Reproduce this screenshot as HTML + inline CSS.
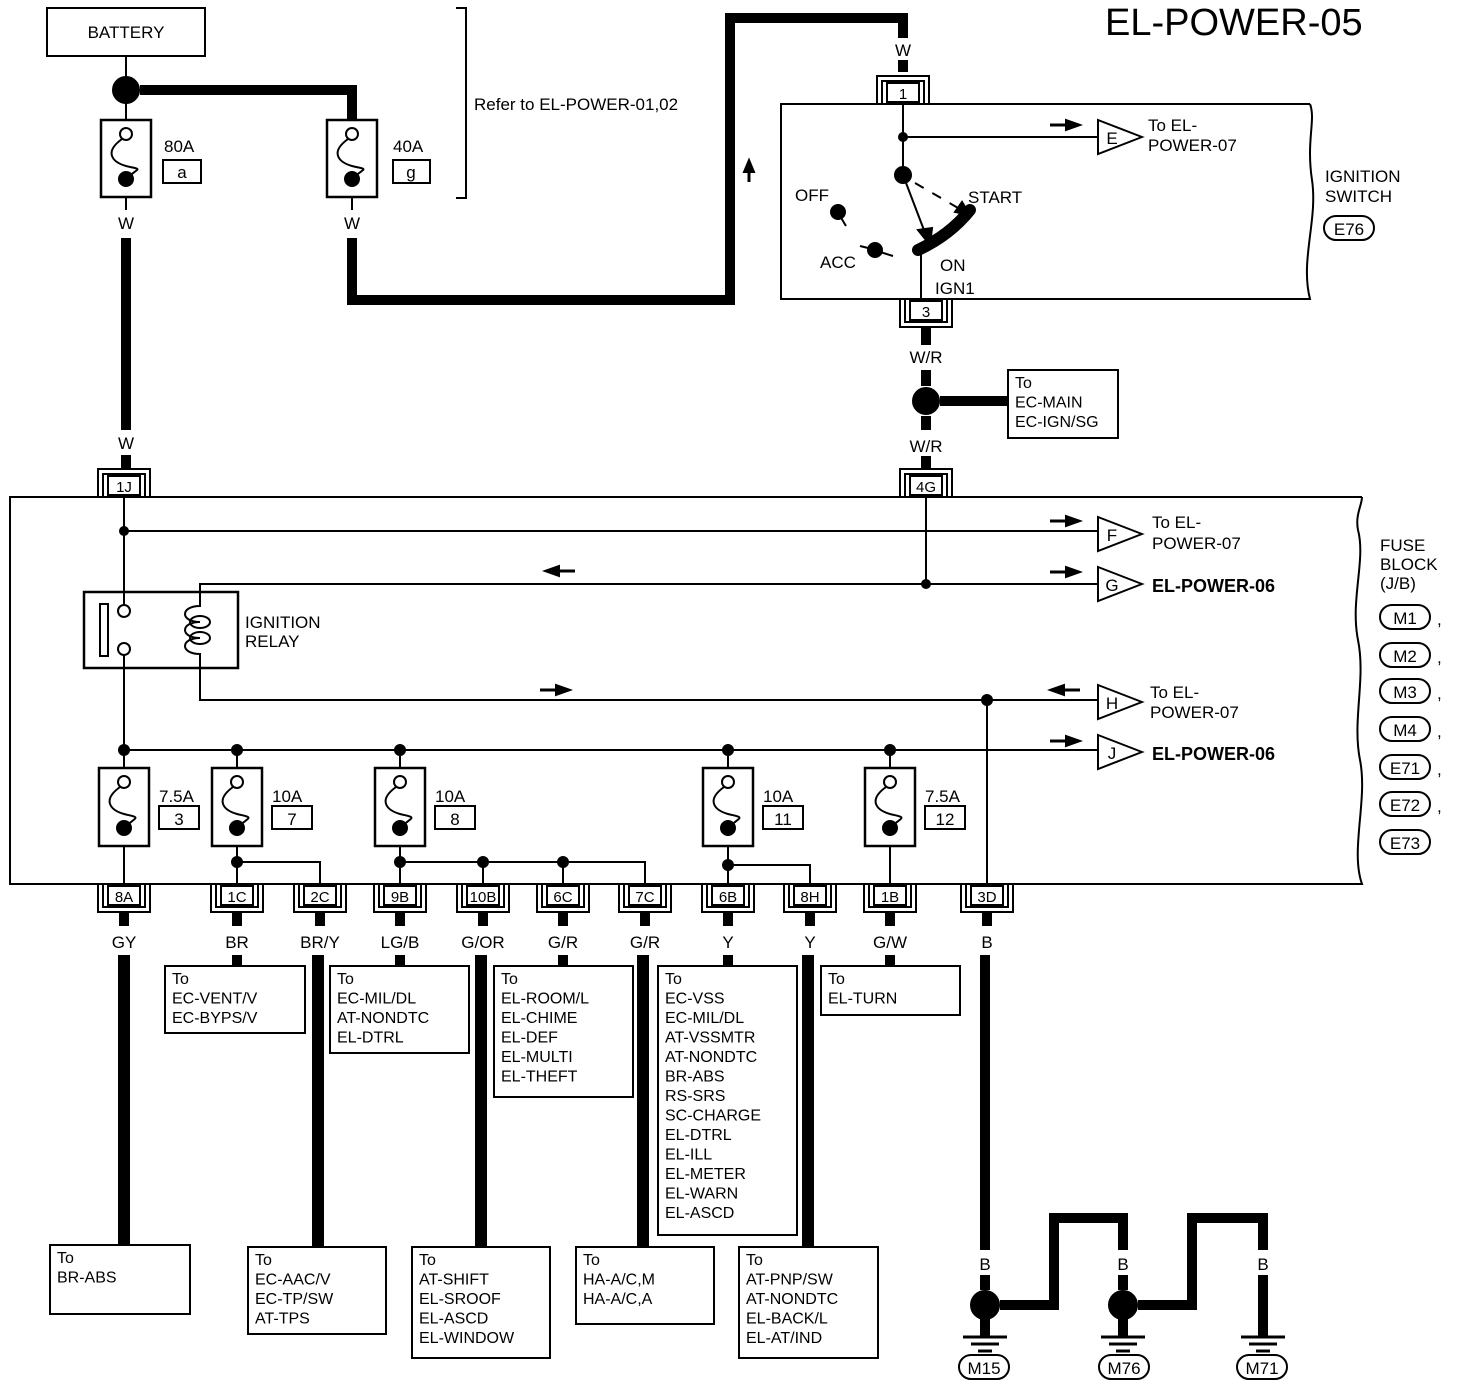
<!DOCTYPE html>
<html><head><meta charset="utf-8"><style>
html,body{margin:0;padding:0;background:#fff;}
svg{display:block;font-family:"Liberation Sans",sans-serif;}
text{fill:#000;}
</style></head><body>
<svg id="s" width="1472" height="1388" viewBox="0 0 1472 1388" xmlns="http://www.w3.org/2000/svg">
<g id="g" stroke="#000" fill="none" stroke-width="2"></g>
</svg>
<script>
var g=document.getElementById('g'),h='';
function L(pts,w,extra){h+='<polyline points="'+pts+'" stroke-width="'+(w||2)+'" '+(extra||'')+'/>';}
function R(x,y,w,hh,sw){h+='<rect x="'+x+'" y="'+y+'" width="'+w+'" height="'+hh+'" stroke-width="'+(sw||2)+'"/>';}
function C(x,y,r,f){h+='<circle cx="'+x+'" cy="'+y+'" r="'+r+'" fill="'+(f?'#000':'#fff')+'"/>';}
function T(x,y,t,o){o=o||{};h+='<text x="'+x+'" y="'+y+'" stroke="none" style="font-size:'+(o.s||16)+'px" '+(o.b?'font-weight="bold" ':'')+(o.a?'text-anchor="'+o.a+'" ':'')+'>'+t+'</text>';}
function fuse(cx,top,bot){R(cx-25,top,50,bot-top,2.5);C(cx,top+14,6,0);
 h+='<path d="M'+(cx-4)+' '+(top+19)+' C'+(cx-22)+' '+(top+32)+' '+(cx-14)+' '+(top+42)+' '+cx+' '+(top+46)+' C'+(cx+16)+' '+(top+50)+' '+(cx+14)+' '+(bot-30)+' '+(cx+2)+' '+(bot-20)+'"/>';C(cx,bot-18,7,1);}
function conBot(cx,y,lab){L((cx-26)+','+y+' '+(cx-26)+','+(y+28)+' '+(cx+26)+','+(y+28)+' '+(cx+26)+','+y);
 L((cx-21)+','+y+' '+(cx-21)+','+(y+23)+' '+(cx+21)+','+(y+23)+' '+(cx+21)+','+y);R(cx-16,y+2,32,19);T(cx,y+18,lab,{a:'middle',s:15});}
function conTop(cx,y,lab){L((cx-26)+','+y+' '+(cx-26)+','+(y-28)+' '+(cx+26)+','+(y-28)+' '+(cx+26)+','+y);
 L((cx-21)+','+y+' '+(cx-21)+','+(y-23)+' '+(cx+21)+','+(y-23)+' '+(cx+21)+','+y);R(cx-16,y-21,32,19);T(cx,y-5,lab,{a:'middle',s:15});}
function arr(x,y,dir){if(dir>0){L((x)+','+y+' '+(x+20)+','+y,3);h+='<polygon points="'+(x+30)+','+y+' '+(x+16)+','+(y-5)+' '+(x+16)+','+(y+5)+'" fill="#000"/>';}
 else{L((x+10)+','+y+' '+(x+30)+','+y,3);h+='<polygon points="'+x+','+y+' '+(x+14)+','+(y-5)+' '+(x+14)+','+(y+5)+'" fill="#000"/>';}}
function tri(x,y,lab){h+='<polygon points="'+x+','+(y-17)+' '+(x+44)+','+y+' '+x+','+(y+17)+'" fill="#fff" stroke-width="2"/>';T(x+14,y+7,lab,{a:'middle',s:17});}
function box(x,y,w,hh,lines){R(x,y,w,hh);lines.forEach(function(t,i){T(x+7,y+18+i*19.5,t,{s:16});});}
function oval(x,y,lab){h+='<rect x="'+(x-25)+'" y="'+(y-12)+'" width="50" height="24" rx="12"/>';T(x,y+7,lab,{a:'middle',s:17});}
T(1105,35,'EL-POWER-05',{s:38});
R(47,8,158,48);T(126,38,'BATTERY',{a:'middle',s:17});
L('126,56 126,78',2);C(126,90,13,1);
L('140,90 352,90 352,120',10);
L('126,103 126,120',2);
fuse(126,120,197);fuse(352,120,197);
T(164,152,'80A',{s:17});R(163,160,38,23);T(182,178,'a',{a:'middle',s:17});
T(393,152,'40A',{s:17});R(393,160,37,23);T(411,178,'g',{a:'middle',s:17});
L('126,197 126,210');L('352,197 352,210');
L('456,8 466,8 466,198 456,198',2);
T(474,110,'Refer to EL-POWER-01,02',{s:17});
T(126,229,'W',{a:'middle',s:17});T(352,229,'W',{a:'middle',s:17});
L('126,238 126,430',10);T(126,449,'W',{a:'middle',s:17});L('126,455 126,468',10);
L('352,238 352,300 730,300 730,18 903,18 903,38',10);
h+='<polygon points="749,160 744,172 754,172" fill="#000"/>';L('749,170 749,182',3);
T(903,56,'W',{a:'middle',s:17});L('903,60 903,72',10);
conTop(903,104,'1');
h+='<path d="M1310,104 L781,104 L781,299 L1310,299 C1300,260 1318,220 1312,180 C1306,140 1316,120 1310,104"/>';
L('903,104 903,175');C(903,137,4,1);L('903,137 1098,137');arr(1050,125,1);tri(1098,137,'E');
T(1148,131,'To EL-',{s:17});T(1148,151,'POWER-07',{s:17});
C(903,175,8,1);L('903,175 927,238',2);h+='<polygon points="930,245 918,230 932,228" fill="#000"/>';
L('915,183 965,212',2,'stroke-dasharray="10,10"');h+='<polygon points="970,215 955,212 962,202" fill="#000"/>';
h+='<path d="M918,250 Q950,235 970,210" stroke-width="12" stroke-linecap="round"/>';
L('921,252 921,299');
T(795,201,'OFF',{s:17});C(838,212,7,1);L('840,216 846,226');
T(820,268,'ACC',{s:17});C(875,250,7,1);L('860,246 868,248');L('880,252 893,256');
T(968,203,'START',{s:17});T(940,271,'ON',{s:17});T(935,294,'IGN1',{s:17});
T(1325,182,'IGNITION',{s:17});T(1325,202,'SWITCH',{s:17});oval(1349,228,'E76');
conBot(926,299,'3');
L('926,327 926,345',10);T(926,363,'W/R',{a:'middle',s:17});
L('926,370 926,386',10);C(926,401,13,1);L('926,416 926,430',10);L('940,401 1008,401',10);
box(1008,370,110,68,['To','EC-MAIN','EC-IGN/SG']);
T(926,452,'W/R',{a:'middle',s:17});L('926,456 926,470',10);
conTop(124,497,'1J');conTop(926,497,'4G');
h+='<path d="M1362,497 L10,497 L10,884 L1362,884 C1350,850 1368,800 1360,760 C1352,720 1366,680 1358,640 C1350,600 1366,560 1358,530 C1355,515 1362,505 1362,497"/>';
T(1380,551,'FUSE',{s:17});T(1380,570,'BLOCK',{s:17});T(1380,589,'(J/B)',{s:17});
[['M1',617],['M2',655],['M3',691],['M4',729],['E71',767],['E72',804],['E73',842]].forEach(function(o,i){oval(1405,o[1],o[0]);if(i<6)T(1437,o[1]+8,',',{s:17});});
L('124,497 124,604');C(124,531,4,1);L('124,531 1098,531');arr(1050,521,1);tri(1098,534,'F');
T(1152,528,'To EL-',{s:17});T(1152,549,'POWER-07',{s:17});
L('926,497 926,584');C(926,584,4,1);L('200,600 200,584 1098,584');arr(545,571,-1);arr(1050,572,1);tri(1098,584,'G');
T(1152,592,'EL-POWER-06',{s:18,b:true});
R(84,592,154,76,2.5);R(100,604,8,52,2);C(124,611,6,0);C(124,649,6,0);
h+='<path d="M200,600 L200,606 C180,606 180,622 200,622 C180,622 180,638 200,638 C180,638 180,654 200,654 L200,668" />';
h+='<ellipse cx="200" cy="622" rx="10" ry="6"/><ellipse cx="200" cy="638" rx="10" ry="6"/>';
T(245,628,'IGNITION',{s:17});T(245,647,'RELAY',{s:17});
L('124,655 124,750');L('200,668 200,700 1098,700');arr(540,690,1);C(987,700,5,1);arr(1050,690,-1);tri(1098,702,'H');
T(1150,698,'To EL-',{s:17});T(1150,718,'POWER-07',{s:17});
L('987,700 987,884');
L('124,750 1098,750');arr(1050,741,1);tri(1098,752,'J');T(1152,760,'EL-POWER-06',{s:18,b:true});
var fs=[[124,'7.5A','3'],[237,'10A','7'],[400,'10A','8'],[728,'10A','11'],[890,'7.5A','12']];
fs.forEach(function(f){C(f[0],750,5,1);L(f[0]+',750 '+f[0]+',768');fuse(f[0],768,846);
 T(f[0]+35,802,f[1],{s:17});R(f[0]+35,806,40,23);T(f[0]+55,825,f[2],{a:'middle',s:17});L(f[0]+',846 '+f[0]+',884');});
C(237,862,5,1);L('237,862 320,862 320,884');
C(400,862,5,1);L('400,862 645,862 645,884');C(483,862,5,1);C(563,862,5,1);L('483,862 483,884');L('563,862 563,884');
C(728,865,5,1);L('728,865 810,865 810,884');
var cs=[[124,'8A','GY'],[237,'1C','BR'],[320,'2C','BR/Y'],[400,'9B','LG/B'],[483,'10B','G/OR'],[563,'6C','G/R'],[645,'7C','G/R'],[728,'6B','Y'],[810,'8H','Y'],[890,'1B','G/W'],[987,'3D','B']];
cs.forEach(function(c){conBot(c[0],884,c[1]);L(c[0]+',912 '+c[0]+',926',10);T(c[0],948,c[2],{a:'middle',s:17});});
L('237,955 237,966',10);box(165,966,140,67,['To','EC-VENT/V','EC-BYPS/V']);
L('400,955 400,966',10);box(330,966,139,87,['To','EC-MIL/DL','AT-NONDTC','EL-DTRL']);
L('563,955 563,966',10);box(494,966,139,131,['To','EL-ROOM/L','EL-CHIME','EL-DEF','EL-MULTI','EL-THEFT']);
L('728,955 728,966',10);box(658,966,139,269,['To','EC-VSS','EC-MIL/DL','AT-VSSMTR','AT-NONDTC','BR-ABS','RS-SRS','SC-CHARGE','EL-DTRL','EL-ILL','EL-METER','EL-WARN','EL-ASCD']);
L('890,955 890,966',10);box(821,966,139,49,['To','EL-TURN']);
L('124,955 124,1245',12);box(50,1245,140,69,['To','BR-ABS']);
L('318,955 318,1247',12);box(248,1247,138,87,['To','EC-AAC/V','EC-TP/SW','AT-TPS']);
L('481,955 481,1247',12);box(412,1247,138,111,['To','AT-SHIFT','EL-SROOF','EL-ASCD','EL-WINDOW']);
L('643,955 643,1247',12);box(576,1247,138,77,['To','HA-A/C,M','HA-A/C,A']);
L('808,955 808,1247',12);box(739,1247,139,111,['To','AT-PNP/SW','AT-NONDTC','EL-BACK/L','EL-AT/IND']);
L('985,955 985,1250',10);
function gnd(x,y){L((x-22)+','+y+' '+(x+22)+','+y,3);L((x-14)+','+(y+7)+' '+(x+14)+','+(y+7),3);L((x-7)+','+(y+14)+' '+(x+7)+','+(y+14),3);}
T(985,1270,'B',{a:'middle',s:17});L('985,1275 985,1290',10);C(985,1305,14,1);L('985,1315 985,1337',10);gnd(985,1337);oval(984,1367,'M15');
L('1000,1305 1054,1305 1054,1218 1123,1218 1123,1250',10);T(1123,1270,'B',{a:'middle',s:17});
L('1123,1275 1123,1290',10);C(1123,1305,14,1);L('1123,1315 1123,1337',10);gnd(1123,1337);oval(1124,1367,'M76');
L('1138,1305 1192,1305 1192,1218 1263,1218 1263,1250',10);T(1263,1270,'B',{a:'middle',s:17});
L('1263,1275 1263,1337',10);gnd(1263,1337);oval(1262,1367,'M71');
g.innerHTML=h;
</script>
</body></html>
